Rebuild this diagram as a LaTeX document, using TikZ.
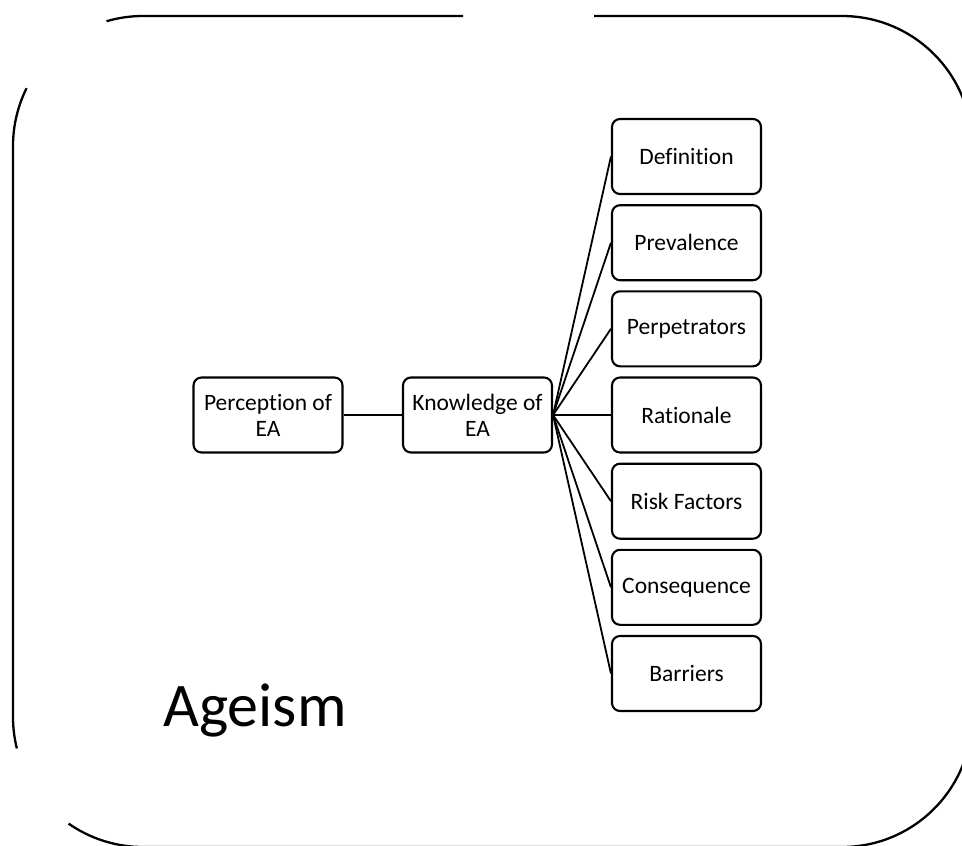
\documentclass[tikz,border=0pt]{standalone}
\usepackage{fontspec}
\setmainfont{Carlito}[Ligatures=NoCommon]
\begin{document}
\begin{tikzpicture}[x=1pt,y=-1pt,
  box/.style={draw, line width=2.1pt, rounded corners=8pt, minimum width=149pt, minimum height=75pt,
    inner sep=2pt, align=center, font=\fontsize{23.5}{26}\selectfont},
  conn/.style={line width=1.8pt},
  outer/.style={line width=2.3pt}]
\useasboundingbox (0,0) rectangle (962,846);
\begin{scope}
\clip (0,0) rectangle (962,846);
% outer rounded frame (partly open)
\draw[outer] (463,16) -- (143,16) arc[start angle=270, end angle=253.7, radius=130];
\draw[outer] (594,16) -- (842,16) arc[start angle=270, end angle=360, radius=130]
  -- (972,717) arc[start angle=0, end angle=90, radius=130]
  -- (143,847) arc[start angle=90, end angle=124.9, radius=130];
\draw[outer] (13,146) arc[start angle=180, end angle=206.4, radius=130];
\draw[outer] (13,146) -- (13,717) arc[start angle=180, end angle=166, radius=130];
\end{scope}

\node[box] (perc) at (268,415) {Perception of\\EA};
\node[box] (know) at (477.5,415) {Knowledge of\\EA};
\node[box] (def) at (686.5,156.5) {Definition};
\node[box] (prev) at (686.5,242.7) {Prevalence};
\node[box] (perp) at (686.5,328.8) {Perpetrators};
\node[box] (rat) at (686.5,415) {Rationale};
\node[box] (risk) at (686.5,501.2) {Risk Factors};
\node[box] (cons) at (686.5,587.3) {Consequence};
\node[box] (barr) at (686.5,673.5) {Barriers};

\draw[conn] (perc.east) -- (know.west);
\foreach \t in {def,prev,perp,rat,risk,cons,barr}
  \draw[conn] (know.east) -- (\t.west);

\node[anchor=base west, inner sep=0pt, font=\fontsize{62}{70}\selectfont] (age) at (163,726) {Ageism};
\end{tikzpicture}
\end{document}
